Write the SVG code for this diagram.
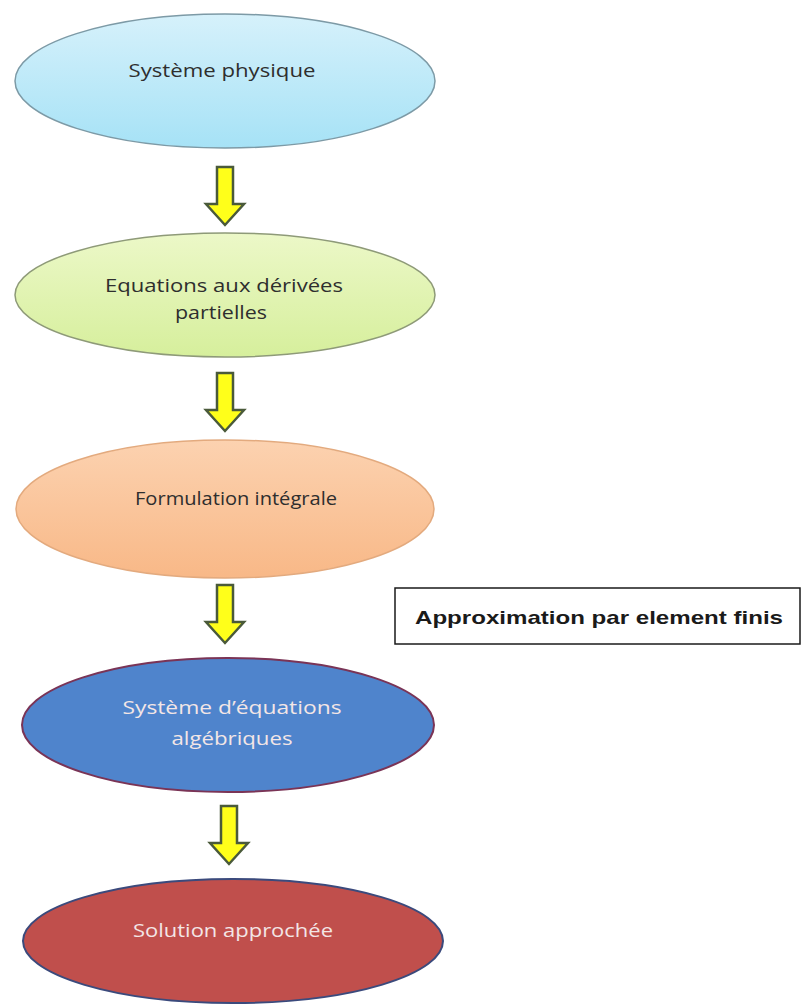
<svg xmlns="http://www.w3.org/2000/svg" width="806" height="1005" viewBox="0 0 806 1005">
<defs>
<linearGradient id="gBlue" x1="0" y1="0" x2="0" y2="1"><stop offset="0" stop-color="#d6f1fb"/><stop offset="1" stop-color="#a6e2f6"/></linearGradient>
<linearGradient id="gGreen" x1="0" y1="0" x2="0" y2="1"><stop offset="0" stop-color="#ecf8c8"/><stop offset="1" stop-color="#d6ef9c"/></linearGradient>
<linearGradient id="gOrange" x1="0" y1="0" x2="0" y2="1"><stop offset="0" stop-color="#fcd2b0"/><stop offset="1" stop-color="#f8b887"/></linearGradient>
<style>
.node-text{font-family:"Open Sans","Noto Sans","DejaVu Sans",sans-serif;font-size:19px;text-anchor:middle}
.dark{fill:#2e2e2e}
.light{fill:#f3e6e6}
.arrow{fill:#ffff1a;stroke:#4a5a3a;stroke-width:2.5;stroke-linejoin:miter}
.label{font-family:"Liberation Sans",Arial,sans-serif;font-weight:bold;font-size:19px;fill:#1a1a1a}
</style>
<path id="arrowShape" class="arrow" d="M-8,0 H8 V37 H19 L0,58 L-19,37 H-8 Z"/>
</defs>
<rect width="806" height="1005" fill="#ffffff"/>

<g id="node1">
<ellipse cx="225" cy="81" rx="210" ry="67" fill="url(#gBlue)" stroke="#7d9aa6" stroke-width="1.5"/>
<text class="node-text dark" x="222" y="77" textLength="187" lengthAdjust="spacingAndGlyphs">Système physique</text>
</g>

<g id="node2">
<ellipse cx="225" cy="295" rx="210" ry="62" fill="url(#gGreen)" stroke="#8e9a78" stroke-width="1.5"/>
<text class="node-text dark" x="224" y="292" textLength="238" lengthAdjust="spacingAndGlyphs">Equations aux dérivées</text>
<text class="node-text dark" x="221" y="319" textLength="92" lengthAdjust="spacingAndGlyphs">partielles</text>
</g>

<g id="node3">
<ellipse cx="225" cy="509" rx="209" ry="69" fill="url(#gOrange)" stroke="#e3aa7e" stroke-width="1.5"/>
<text class="node-text dark" x="236" y="505" textLength="202" lengthAdjust="spacingAndGlyphs">Formulation intégrale</text>
</g>

<g id="node4">
<ellipse cx="228" cy="725" rx="206" ry="67" fill="#4f84cc" stroke="#7a3456" stroke-width="2"/>
<text class="node-text light" x="232" y="714" textLength="219" lengthAdjust="spacingAndGlyphs">Système d’équations</text>
<text class="node-text light" x="232" y="745" textLength="121" lengthAdjust="spacingAndGlyphs">algébriques</text>
</g>

<g id="node5">
<ellipse cx="233" cy="941" rx="210" ry="62" fill="#c04f4c" stroke="#3b4a7c" stroke-width="2"/>
<text class="node-text light" x="233" y="937" textLength="200" lengthAdjust="spacingAndGlyphs">Solution approchée</text>
</g>

<g id="connectors">
<use href="#arrowShape" x="225" y="167"/>
<use href="#arrowShape" x="225" y="373"/>
<use href="#arrowShape" x="225" y="585"/>
<use href="#arrowShape" x="229" y="806"/>
</g>

<g id="note">
<rect x="395" y="588" width="405" height="56" fill="#ffffff" stroke="#1a1a1a" stroke-width="1.5"/>
<text class="label" x="415" y="624" textLength="368" lengthAdjust="spacingAndGlyphs">Approximation par element finis</text>
</g>
</svg>
